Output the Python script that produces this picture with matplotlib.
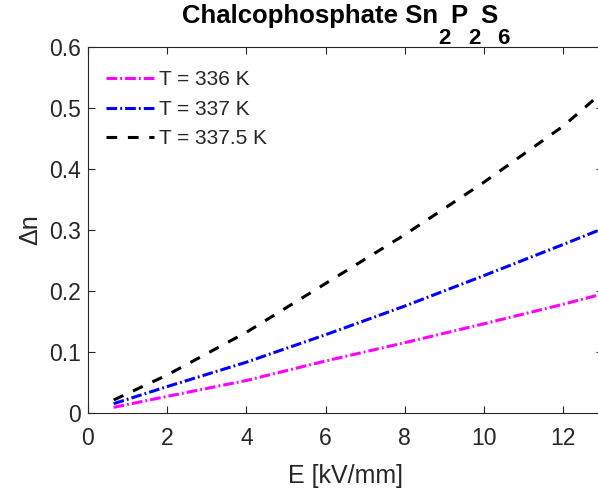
import matplotlib
matplotlib.use('Agg')
import matplotlib.pyplot as plt
from matplotlib.transforms import IdentityTransform

plt.rcParams['font.family'] = ['Liberation Sans', 'DejaVu Sans']

# field strength E [kV/mm]
E = [0.65, 2, 4, 6, 8, 10, 12, 13]
# birefringence change for each temperature
dn_336 = [0.009, 0.027, 0.053, 0.085, 0.115, 0.146, 0.178, 0.195]
dn_337 = [0.015, 0.043, 0.083, 0.128, 0.175, 0.225, 0.276, 0.302]
dn_3375 = [0.021, 0.062, 0.132, 0.212, 0.292, 0.378, 0.470, 0.526]

labels = ['T = 336 K', 'T = 337 K', 'T = 337.5 K']
xticks = [0, 2, 4, 6, 8, 10, 12]
yticks = [0, 0.1, 0.2, 0.3, 0.4, 0.5, 0.6]
yticklabels = ['0', '0.1', '0.2', '0.3', '0.4', '0.5', '0.6']

gray = '#262626'

fig = plt.figure(figsize=(5.98, 4.98), dpi=100)
ax = fig.add_axes([0.147, 0.171, 0.861, 0.735])

dashdot = (0, (3.5, 1.0, 0.6, 1.0))
ax.plot(E, dn_336, color='#ff00ff', lw=2.2, ls=dashdot, label=labels[0])
ax.plot(E, dn_337, color='#0000ff', lw=2.2, ls=dashdot, label=labels[1])
ax.plot(E, dn_3375, color='black', lw=2.2, ls=(0, (3.5, 3.5)), label=labels[2])

ax.set_xlim(0, 13)
ax.set_ylim(0, 0.6)
ax.set_xticks(xticks)
ax.set_yticks(yticks)
ax.set_yticklabels(yticklabels)
ax.tick_params(direction='in', top=True, right=True, labelsize=16.5, colors=gray,
               length=5, width=0.8)
ax.tick_params(axis='x', pad=10)
ax.tick_params(axis='y', pad=5)
for s in ax.spines.values():
    s.set_color(gray)
    s.set_linewidth(0.8)

ax.set_xlabel('E [kV/mm]', fontsize=18, color=gray, labelpad=10)
ax.set_ylabel('Δn', fontsize=18, color=gray, labelpad=5)

leg = ax.legend(loc='upper left', bbox_to_anchor=(0, 0.984), frameon=False,
                fontsize=15, handlelength=2.3, handletextpad=0.25,
                labelspacing=0.5, borderaxespad=0.45)
for t in leg.get_texts():
    t.set_color(gray)

# title with MATLAB-like dropped subscripts, built piece by piece (pixels)
pieces = [('Chalcophosphate Sn', False), ('2', True), ('P', False),
          ('2', True), ('S', False), ('6', True)]
fig.canvas.draw()
renderer = fig.canvas.get_renderer()
objs = []
total = 0
for s, sub in pieces:
    t = fig.text(0, 0, s, fontsize=16 if sub else 18.5, fontweight='bold',
                 transform=IdentityTransform(), va='baseline')
    w = t.get_window_extent(renderer).width
    objs.append((t, w, sub))
    total += w
x = 346 - total / 2
for t, w, sub in objs:
    t.set_position((x, 454 if sub else 475))
    x += w

fig.savefig('out.png', dpi=100)
